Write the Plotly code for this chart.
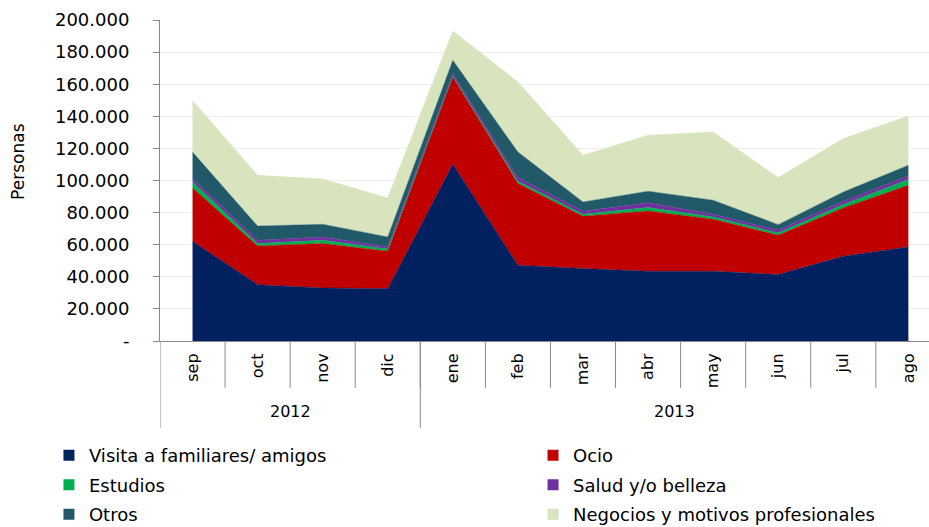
import plotly.graph_objects as go

months = ["sep", "oct", "nov", "dic", "ene", "feb", "mar", "abr", "may", "jun", "jul", "ago"]
years = ["2012"] * 4 + ["2013"] * 8

visita = [62100, 35100, 33000, 32600, 110100, 47200, 45100, 43400, 43400, 41400, 52800, 58600]
ocio = [33200, 24100, 27700, 23300, 54400, 50900, 32600, 37600, 32400, 24500, 30100, 38400]
estudios = [3800, 1500, 2000, 1400, 600, 1400, 1200, 2100, 1500, 1400, 2100, 3600]
salud = [2200, 2000, 2100, 1300, 1500, 2300, 1900, 3100, 1600, 1700, 2000, 2200]
otros = [16400, 8900, 7900, 6200, 8300, 15900, 5800, 7100, 8800, 3500, 5800, 6700]
negocios = [32100, 31600, 28200, 24300, 18200, 43700, 29100, 34900, 42500, 29300, 33300, 30700]

series_names = ["Visita a familiares/ amigos", "Ocio", "Estudios", "Salud y/o belleza",
                "Otros", "Negocios y motivos profesionales"]
series_values = [visita, ocio, estudios, salud, otros, negocios]
colors = ["#002060", "#C00000", "#00B050", "#7030A0", "#215968", "#D7E4BD"]

y_ticks = [0, 20000, 40000, 60000, 80000, 100000, 120000, 140000, 160000, 180000, 200000]
y_ticktext = ["-" if v == 0 else f"{v:,}".replace(",", ".") for v in y_ticks]

FONT = "DejaVu Sans"
GRID = "#EFEFEF"
AXIS = "#898989"

fig = go.Figure()

for name, vals, col in zip(series_names, series_values, colors):
    fig.add_trace(go.Scatter(
        x=months, y=vals, name=name, stackgroup="one", mode="lines",
        line=dict(width=0.5, color=col), fillcolor=col, showlegend=False,
        hoverinfo="x+y+name",
    ))

# legend entries (square swatches), two columns
for i, (name, col) in enumerate(zip(series_names, colors)):
    fig.add_trace(go.Scatter(
        x=[None], y=[None], mode="markers", name=name,
        marker=dict(symbol="square", size=11, color=col),
        legend="legend" if i % 2 == 0 else "legend2",
        legendgroup=name, showlegend=True,
    ))

x_end = 11.317

shapes = []
# month separators below the axis
for i in range(len(months) - 1):
    b = i + 0.5
    if b < x_end:
        shapes.append(dict(type="line", xref="x", yref="paper", x0=b, x1=b,
                           y0=0, y1=-0.146, line=dict(color=AXIS, width=1)))
# year dividers
bounds = [-0.5]
for i in range(1, len(years)):
    if years[i] != years[i - 1]:
        bounds.append(i - 0.5)
for b in bounds:
    shapes.append(dict(type="line", xref="x", yref="paper", x0=b, x1=b,
                       y0=0, y1=-0.271, line=dict(color=AXIS, width=1)))

annotations = []
uniq_years = []
for y in years:
    if y not in uniq_years:
        uniq_years.append(y)
for yr in uniq_years:
    idx = [i for i, v in enumerate(years) if v == yr]
    lo = idx[0] - 0.5
    hi = min(idx[-1] + 0.5, x_end)
    annotations.append(dict(text=yr, x=(lo + hi) / 2, y=-0.221, xref="x", yref="paper",
                            showarrow=False, font=dict(family=FONT, size=16, color="#000000"),
                            xanchor="center", yanchor="middle"))

annotations.append(dict(text="Personas", x=-0.1847, y=0.561, xref="paper", yref="paper",
                        textangle=-90, showarrow=False,
                        font=dict(family=FONT, size=17, color="#000000"),
                        xanchor="center", yanchor="middle"))

fig.update_layout(
    width=929, height=527,
    margin=dict(l=160, r=0, t=20, b=186, autoexpand=False),
    paper_bgcolor="white", plot_bgcolor="white",
    font=dict(family=FONT, color="#000000"),
    shapes=shapes, annotations=annotations,
    xaxis=dict(
        type="category", categoryorder="array", categoryarray=months,
        range=[-0.5, x_end], showline=True, linecolor=AXIS, linewidth=1,
        showgrid=False, ticks="", tickangle=-90, ticklabelstandoff=5,
        tickfont=dict(family=FONT, size=16, color="#000000"), zeroline=False,
        automargin=False,
    ),
    yaxis=dict(
        range=[0, 200000], tickvals=y_ticks, ticktext=y_ticktext,
        showline=True, linecolor=AXIS, linewidth=1, showgrid=True, gridcolor=GRID,
        gridwidth=1, ticks="outside", ticklen=6, tickcolor=AXIS,
        ticklabelstandoff=20, zeroline=False, automargin=False,
        tickfont=dict(family=FONT, size=18, color="#000000"),
    ),
    legend=dict(x=-0.1444, y=-0.2995, xanchor="left", yanchor="top", orientation="v",
                tracegroupgap=3, bgcolor="rgba(0,0,0,0)", borderwidth=0,
                font=dict(family=FONT, size=18, color="#000000")),
    legend2=dict(x=0.4851, y=-0.2995, xanchor="left", yanchor="top", orientation="v",
                 tracegroupgap=3, bgcolor="rgba(0,0,0,0)", borderwidth=0,
                 font=dict(family=FONT, size=18, color="#000000")),
    hovermode="x unified",
)

fig.write_html("out.html", config={"displayModeBar": False},
               post_script="document.body.style.margin='0px';document.body.style.overflow='hidden';")
